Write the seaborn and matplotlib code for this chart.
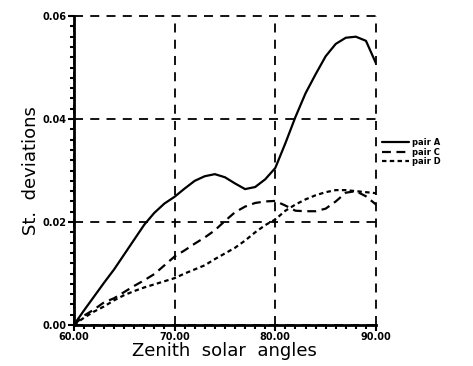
import matplotlib
matplotlib.use("Agg")
import matplotlib.pyplot as plt
from matplotlib.ticker import MultipleLocator, FormatStrFormatter
import pandas as pd
import seaborn as sns

angles = list(range(60, 91))
pair_a = [0.0000, 0.0028, 0.0055, 0.0082, 0.0108, 0.0137, 0.0166, 0.0195, 0.0218, 0.0236,
          0.0249, 0.0265, 0.0280, 0.0289, 0.0293, 0.0287, 0.0275, 0.0264, 0.0268, 0.0283,
          0.0305, 0.0353, 0.0404, 0.0450, 0.0487, 0.0522, 0.0546, 0.0558, 0.0560, 0.0552,
          0.0508]
pair_c = [0.0000, 0.0018, 0.0030, 0.0044, 0.0052, 0.0064, 0.0076, 0.0087, 0.0099, 0.0116,
          0.0133, 0.0145, 0.0158, 0.0170, 0.0184, 0.0202, 0.0219, 0.0230, 0.0237, 0.0240,
          0.0241, 0.0232, 0.0222, 0.0221, 0.0221, 0.0226, 0.0240, 0.0257, 0.0260, 0.0250,
          0.0234]
pair_d = [0.0000, 0.0014, 0.0026, 0.0036, 0.0048, 0.0058, 0.0066, 0.0073, 0.0079, 0.0085,
          0.0091, 0.0100, 0.0108, 0.0116, 0.0128, 0.0139, 0.0150, 0.0164, 0.0180, 0.0194,
          0.0205, 0.0222, 0.0234, 0.0244, 0.0252, 0.0258, 0.0262, 0.0262, 0.0260, 0.0258,
          0.0256]
pairs = ["pair A", "pair C", "pair D"]

df = pd.DataFrame({
    "angle": angles * 3,
    "sd": pair_a + pair_c + pair_d,
    "pair": [p for p in pairs for _ in angles],
})

sns.set_style("white")
plt.rcParams["font.family"] = ["DejaVu Sans"]
plt.rcParams["text.color"] = "black"
plt.rcParams["axes.labelcolor"] = "black"
plt.rcParams["xtick.color"] = "black"
plt.rcParams["ytick.color"] = "black"

fig = plt.figure(figsize=(4.73, 3.66), dpi=100)
ax = fig.add_axes([0.156, 0.112, 0.639, 0.844])

sns.lineplot(data=df, x="angle", y="sd", style="pair", color="black", linewidth=1.6,
             dashes={"pair A": "", "pair C": (4, 2.5), "pair D": (2, 1.5)}, ax=ax)

ax.set_xlim(60, 90)
ax.set_ylim(0, 0.06)
ax.xaxis.set_major_locator(MultipleLocator(10))
ax.xaxis.set_minor_locator(MultipleLocator(1))
ax.yaxis.set_major_locator(MultipleLocator(0.02))
ax.yaxis.set_minor_locator(MultipleLocator(0.002))
ax.xaxis.set_major_formatter(FormatStrFormatter("%.2f"))
ax.yaxis.set_major_formatter(FormatStrFormatter("%.2f"))
ax.grid(True, which="major", color="black", linestyle=(0, (5, 4)), linewidth=1.3)
for gl in ax.get_xgridlines() + ax.get_ygridlines():
    gl.set_clip_on(False)

for s in ["top", "right"]:
    ax.spines[s].set_visible(False)
for s in ["left", "bottom"]:
    ax.spines[s].set_color("black")
    ax.spines[s].set_linewidth(2)

ax.tick_params(which="both", bottom=True, left=True, direction="out", width=1.5, colors="black")
ax.tick_params(which="major", length=4, labelsize=7, pad=1)
ax.tick_params(which="minor", length=3)
for lab in ax.get_xticklabels() + ax.get_yticklabels():
    lab.set_fontweight("bold")

ax.set_xlabel("Zenith  solar  angles", fontsize=13, labelpad=0)
ax.set_ylabel("St.  deviations", fontsize=13, labelpad=2)

ax.legend(loc="center left", bbox_to_anchor=(1.0, 0.56), frameon=False,
          handlelength=3.2, handletextpad=0.4, labelspacing=0.05, borderaxespad=0.3,
          prop={"weight": "bold", "size": 6})

fig.savefig("out.png", dpi=100)
